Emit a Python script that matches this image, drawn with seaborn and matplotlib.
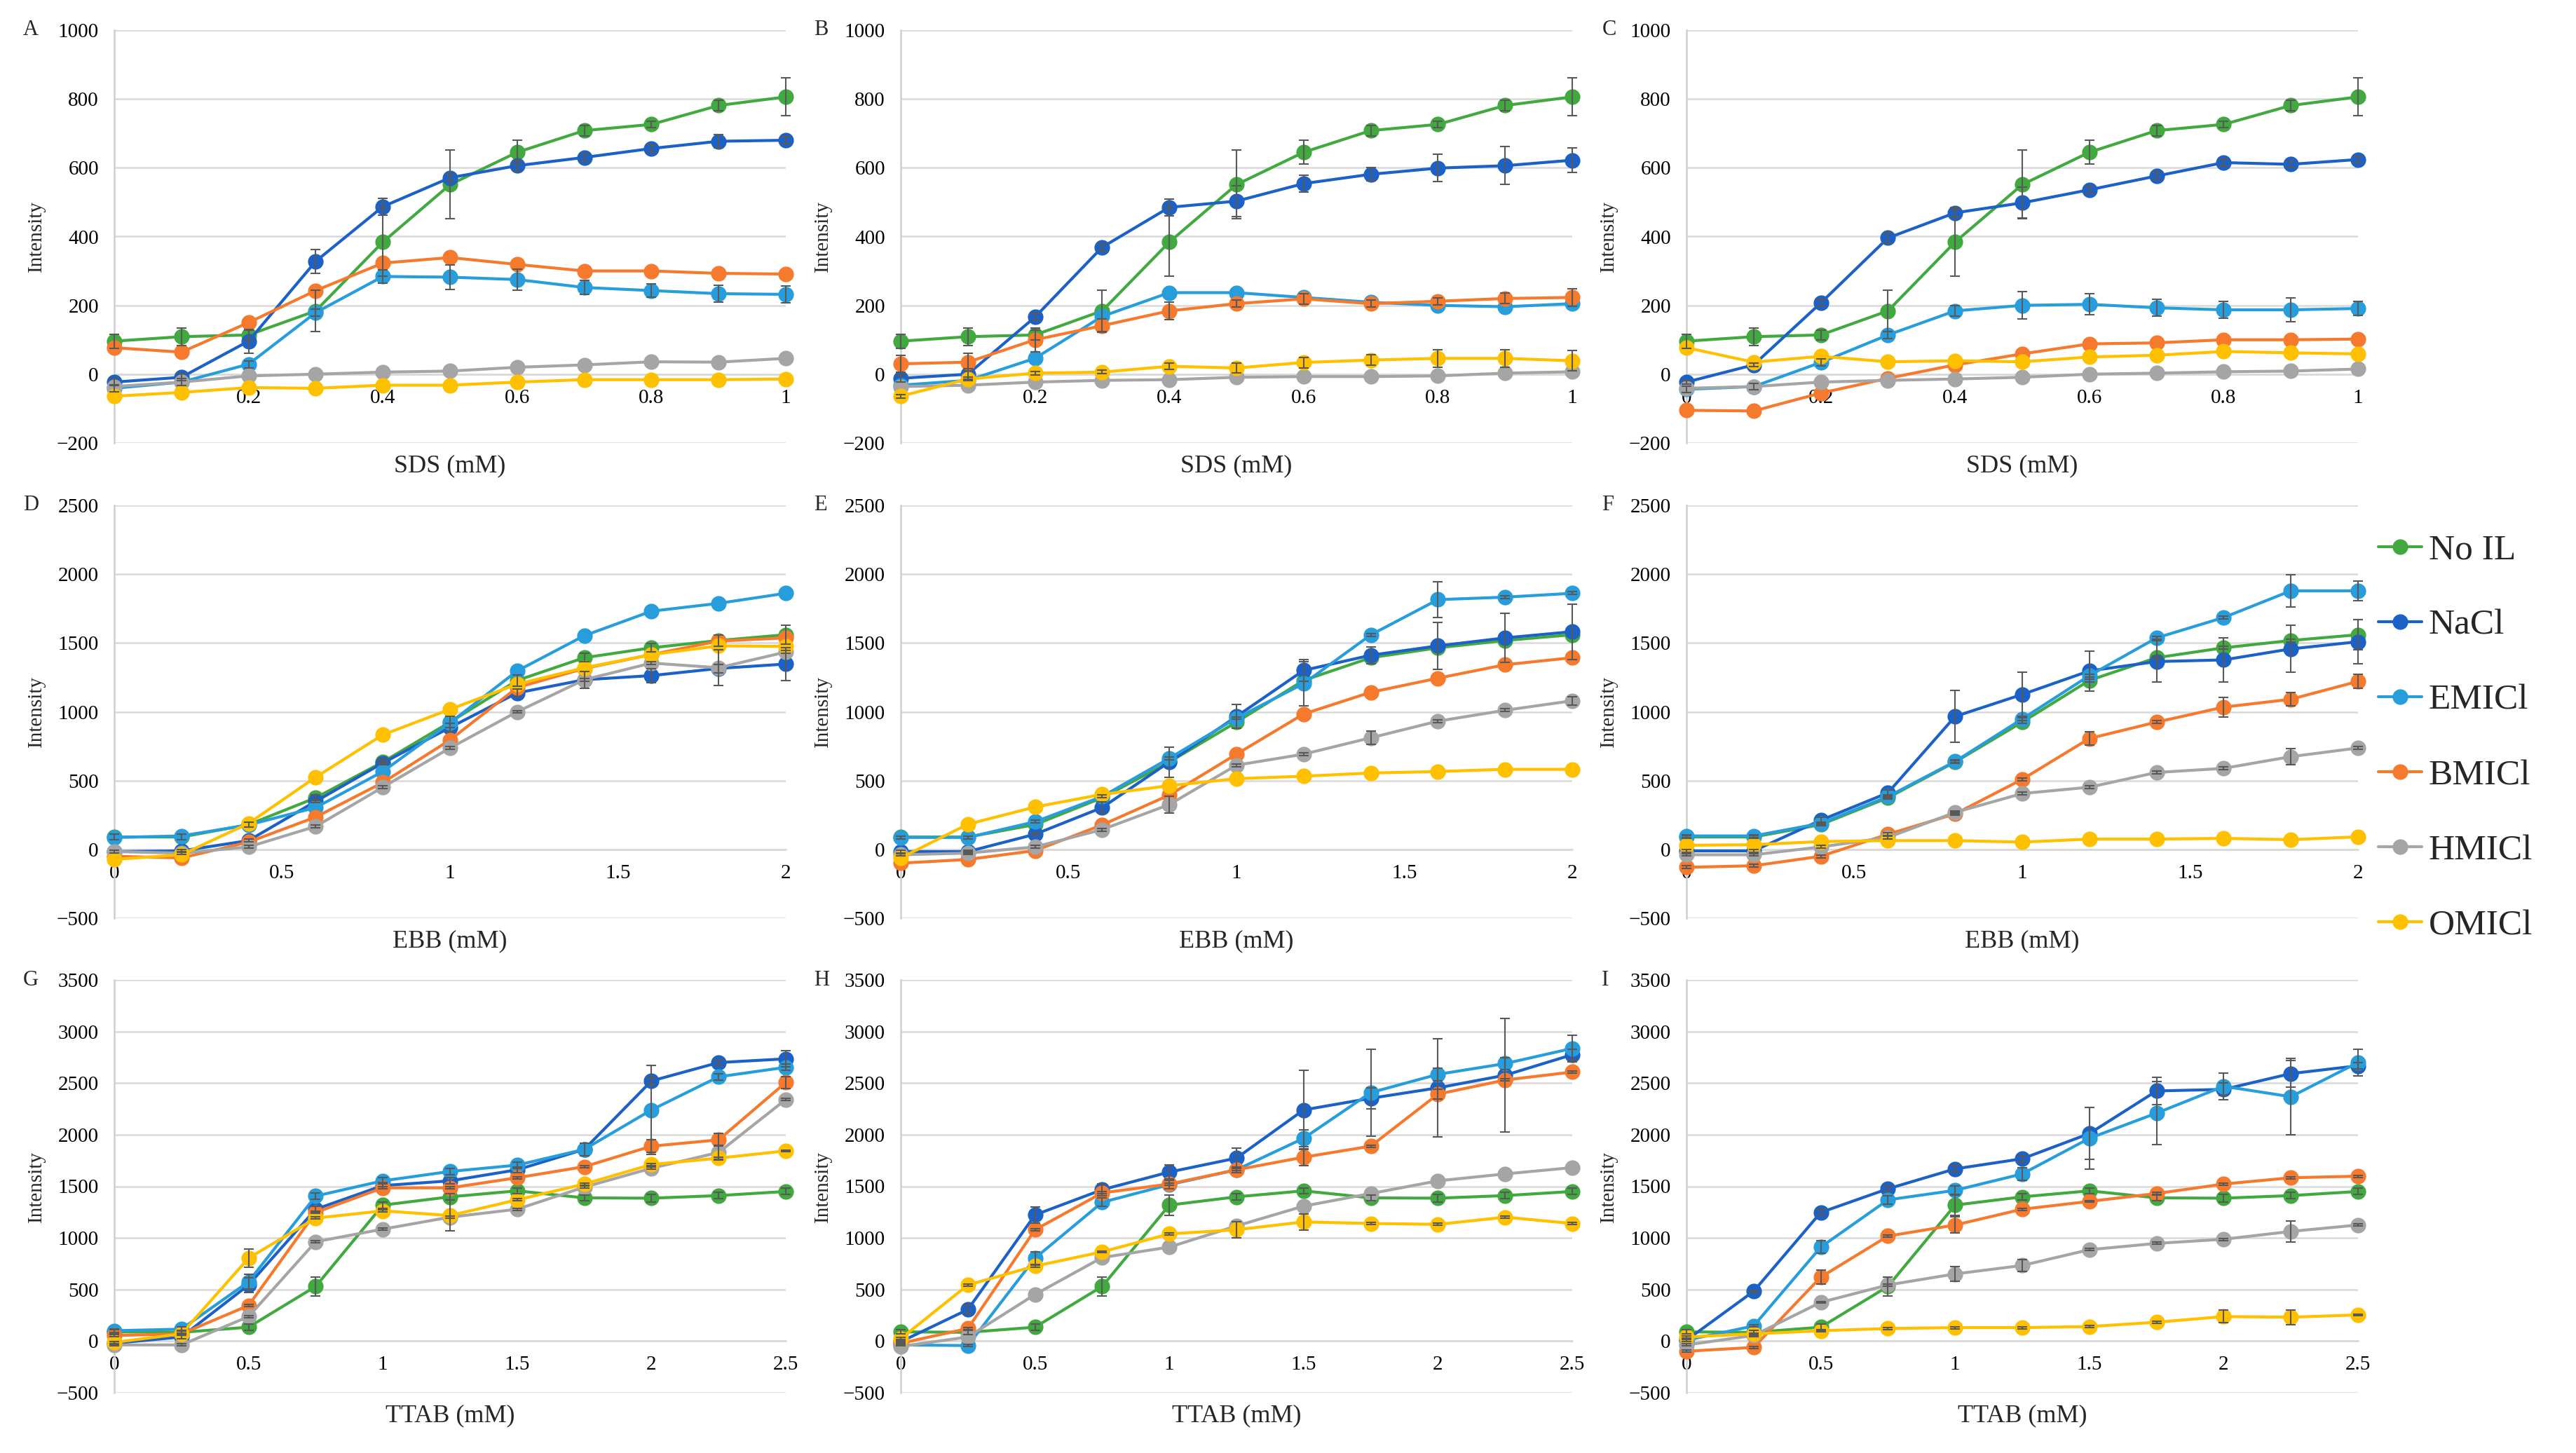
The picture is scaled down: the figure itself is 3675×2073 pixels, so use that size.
import pandas as pd
import seaborn as sns
import matplotlib.pyplot as plt
from matplotlib.lines import Line2D
from matplotlib.ticker import MultipleLocator, FuncFormatter

sns.set_theme(style='white')
plt.rcParams['font.family'] = ['Liberation Serif', 'DejaVu Serif']

series = ['No IL', 'NaCl', 'EMICl', 'BMICl', 'HMICl', 'OMICl']
colors = {'No IL': '#42a940', 'NaCl': '#1c62c6', 'EMICl': '#279ddb',
          'BMICl': '#f57a2e', 'HMICl': '#a5a5a5', 'OMICl': '#ffc000'}

sds_x = [0, 0.1, 0.2, 0.3, 0.4, 0.5, 0.6, 0.7, 0.8, 0.9, 1.0]
ebb_x = [0, 0.2, 0.4, 0.6, 0.8, 1.0, 1.2, 1.4, 1.6, 1.8, 2.0]
ttab_x = [0, 0.25, 0.5, 0.75, 1.0, 1.25, 1.5, 1.75, 2.0, 2.25, 2.5]

# control (no ionic liquid) is the same curve in each row
noil_sds = [96, 109, 114, 184, 384, 551, 645, 708, 726, 781, 806]
noil_ebb = [90, 90, 180, 375, 635, 925, 1228, 1393, 1465, 1518, 1560]
noil_ttab = [90, 85, 135, 530, 1318, 1398, 1456, 1388, 1385, 1410, 1450]

# ---- SDS ----
panel_a = {'No IL': noil_sds,
           'NaCl': [-23, -9, 96, 328, 487, 571, 606, 630, 656, 677, 680],
           'EMICl': [-41, -23, 29, 179, 284, 282, 275, 252, 243, 234, 232],
           'BMICl': [77, 64, 150, 243, 323, 339, 319, 300, 300, 293, 291],
           'HMICl': [-36, -23, -5, 0, 6, 9, 20, 27, 36, 35, 46],
           'OMICl': [-64, -53, -39, -41, -32, -32, -23, -16, -16, -16, -14]}
err_a = {'No IL': [20, 25, 15, 60, 100, 100, 35, 15, 10, 15, 55],
         'NaCl': [10, 10, 35, 35, 25, 10, 15, 10, 10, 20, 10],
         'EMICl': [10, 10, 10, 10, 20, 35, 30, 20, 20, 25, 25]}

panel_b = {'No IL': noil_sds,
           'NaCl': [-12, 0, 166, 369, 485, 503, 554, 581, 599, 606, 622],
           'EMICl': [-32, -18, 46, 168, 237, 237, 223, 209, 200, 196, 205],
           'BMICl': [30, 35, 100, 141, 184, 205, 219, 205, 212, 220, 223],
           'HMICl': [-36, -32, -23, -18, -16, -9, -7, -7, -5, 3, 7],
           'OMICl': [-64, -14, 3, 6, 23, 18, 34, 41, 46, 46, 39]}
err_b = {'No IL': [20, 25, 15, 60, 100, 100, 35, 15, 10, 15, 55],
         'NaCl': [10, 15, 10, 10, 25, 45, 25, 20, 40, 55, 35],
         'BMICl': [25, 25, 35, 20, 25, 10, 15, 10, 10, 15, 25],
         'OMICl': [5, 5, 5, 5, 10, 15, 15, 15, 25, 25, 30]}

panel_c = {'No IL': noil_sds,
           'NaCl': [-23, 27, 207, 396, 469, 498, 536, 576, 615, 610, 624],
           'EMICl': [-44, -36, 34, 114, 184, 200, 203, 193, 187, 187, 191],
           'BMICl': [-105, -107, -55, -12, 27, 59, 88, 91, 100, 100, 102],
           'HMICl': [-41, -36, -23, -18, -14, -9, 0, 3, 7, 9, 15],
           'OMICl': [77, 35, 52, 36, 39, 36, 50, 55, 66, 62, 59]}
err_c = {'No IL': [20, 25, 15, 60, 100, 100, 35, 15, 10, 15, 55],
         'NaCl': [5, 5, 10, 15, 10, 45, 10, 10, 10, 10, 10],
         'EMICl': [10, 10, 10, 10, 15, 40, 30, 25, 25, 35, 20]}

# ---- EBB ----
panel_d = {'No IL': noil_ebb,
           'NaCl': [-16, -11, 64, 349, 628, 886, 1137, 1233, 1263, 1315, 1347],
           'EMICl': [87, 98, 178, 304, 566, 920, 1297, 1553, 1731, 1788, 1861],
           'BMICl': [-50, -62, 53, 235, 486, 795, 1176, 1315, 1416, 1514, 1537],
           'HMICl': [-16, -27, 18, 167, 452, 737, 1000, 1233, 1354, 1320, 1434],
           'OMICl': [-73, -39, 189, 525, 833, 1018, 1201, 1320, 1416, 1479, 1475]}
err_d = {'No IL': [20, 20, 20, 20, 20, 40, 40, 30, 30, 40, 70],
         'NaCl': [10, 10, 10, 10, 10, 30, 30, 60, 50, 30, 120],
         'HMICl': [10, 10, 10, 10, 10, 10, 10, 10, 10, 130, 10]}

panel_e = {'No IL': noil_ebb,
           'NaCl': [-16, -16, 110, 304, 635, 966, 1301, 1411, 1479, 1537, 1582],
           'EMICl': [87, 87, 201, 384, 662, 954, 1205, 1559, 1815, 1833, 1861],
           'BMICl': [-100, -73, -9, 178, 395, 692, 984, 1142, 1244, 1342, 1393],
           'HMICl': [-39, -27, 18, 144, 326, 612, 692, 811, 932, 1011, 1080],
           'OMICl': [-62, 183, 308, 400, 463, 514, 532, 555, 566, 582, 582]}
err_e = {'NaCl': [10, 10, 10, 40, 110, 85, 80, 60, 170, 180, 200],
         'EMICl': [10, 10, 10, 10, 10, 10, 160, 10, 130, 10, 10],
         'HMICl': [10, 10, 10, 10, 60, 10, 10, 50, 10, 10, 30]}

panel_f = {'No IL': noil_ebb,
           'NaCl': [-11, -11, 212, 411, 966, 1126, 1297, 1365, 1377, 1457, 1509],
           'EMICl': [98, 98, 189, 384, 639, 948, 1263, 1537, 1685, 1879, 1879],
           'BMICl': [-130, -119, -50, 110, 258, 509, 806, 925, 1034, 1091, 1221],
           'HMICl': [-39, -39, 18, 87, 269, 406, 452, 559, 589, 674, 737],
           'OMICl': [30, 34, 57, 64, 64, 53, 75, 75, 80, 71, 91]}
err_f = {'No IL': [10, 10, 10, 10, 10, 10, 10, 10, 10, 10, 110],
         'NaCl': [10, 10, 20, 20, 190, 160, 145, 150, 160, 170, 160],
         'EMICl': [10, 10, 10, 10, 10, 10, 10, 10, 10, 117, 70],
         'BMICl': [10, 10, 10, 10, 10, 10, 50, 10, 70, 50, 50],
         'HMICl': [10, 10, 10, 10, 10, 10, 10, 10, 10, 60, 10]}

# ---- TTAB ----
panel_g = {'No IL': noil_ttab,
           'NaCl': [-21, 40, 544, 1278, 1507, 1553, 1660, 1858, 2521, 2699, 2735],
           'EMICl': [101, 116, 575, 1406, 1553, 1644, 1705, 1858, 2240, 2561, 2653],
           'BMICl': [55, 70, 345, 1247, 1485, 1485, 1583, 1690, 1889, 1950, 2506],
           'HMICl': [-37, -37, 238, 963, 1085, 1201, 1278, 1492, 1675, 1828, 2341],
           'OMICl': [-12, 70, 804, 1192, 1262, 1217, 1369, 1522, 1711, 1773, 1843]}
err_g = {'No IL': [20, 20, 30, 90, 30, 30, 30, 30, 40, 30, 30],
         'NaCl': [20, 20, 70, 30, 30, 30, 30, 60, 30, 30, 80],
         'EMICl': [20, 20, 70, 30, 30, 30, 30, 60, 430, 30, 30],
         'BMICl': [10, 10, 10, 10, 10, 10, 10, 10, 60, 60, 60],
         'HMICl': [10, 10, 10, 10, 10, 10, 10, 10, 10, 70, 10],
         'OMICl': [10, 10, 90, 10, 10, 150, 10, 10, 10, 10, 10]}

panel_h = {'No IL': noil_ttab,
           'NaCl': [-6, 306, 1223, 1467, 1638, 1773, 2240, 2353, 2454, 2576, 2775],
           'EMICl': [-37, -43, 804, 1345, 1516, 1660, 1965, 2408, 2585, 2689, 2836],
           'BMICl': [-21, 122, 1079, 1436, 1522, 1660, 1782, 1889, 2393, 2530, 2607],
           'HMICl': [-52, 40, 452, 810, 911, 1116, 1308, 1430, 1553, 1620, 1681],
           'OMICl': [24, 544, 727, 865, 1039, 1079, 1155, 1140, 1131, 1201, 1140]}
err_h = {'No IL': [20, 20, 30, 90, 100, 30, 30, 30, 40, 30, 30],
         'NaCl': [10, 40, 80, 60, 70, 100, 385, 100, 475, 550, 50],
         'EMICl': [10, 10, 60, 40, 40, 30, 80, 420, 60, 60, 130],
         'BMICl': [10, 10, 10, 10, 10, 10, 80, 10, 50, 10, 10],
         'OMICl': [10, 10, 10, 10, 10, 80, 80, 10, 10, 10, 10]}

panel_i = {'No IL': noil_ttab,
           'NaCl': [9, 483, 1247, 1476, 1669, 1767, 2011, 2424, 2439, 2592, 2668],
           'EMICl': [9, 147, 911, 1369, 1461, 1620, 1965, 2209, 2469, 2368, 2699],
           'BMICl': [-98, -61, 620, 1018, 1125, 1278, 1354, 1430, 1522, 1583, 1598],
           'HMICl': [-37, 55, 376, 544, 651, 733, 886, 947, 987, 1063, 1125],
           'OMICl': [40, 70, 101, 122, 131, 131, 141, 183, 238, 232, 254]}
err_i = {'No IL': [20, 20, 30, 90, 100, 30, 30, 30, 40, 30, 30],
         'NaCl': [10, 10, 30, 30, 30, 30, 250, 130, 60, 130, 30],
         'EMICl': [10, 10, 60, 40, 40, 60, 300, 305, 130, 370, 130],
         'BMICl': [10, 10, 70, 10, 80, 10, 10, 10, 10, 10, 10],
         'HMICl': [10, 10, 10, 10, 70, 60, 10, 10, 10, 100, 10],
         'OMICl': [10, 10, 10, 10, 10, 10, 10, 10, 60, 70, 10]}

panels = [
    ('A', panel_a, err_a, sds_x, 'SDS (mM)', (-200, 1000), 200, 0.2),
    ('B', panel_b, err_b, sds_x, 'SDS (mM)', (-200, 1000), 200, 0.2),
    ('C', panel_c, err_c, sds_x, 'SDS (mM)', (-200, 1000), 200, 0.2),
    ('D', panel_d, err_d, ebb_x, 'EBB (mM)', (-500, 2500), 500, 0.5),
    ('E', panel_e, err_e, ebb_x, 'EBB (mM)', (-500, 2500), 500, 0.5),
    ('F', panel_f, err_f, ebb_x, 'EBB (mM)', (-500, 2500), 500, 0.5),
    ('G', panel_g, err_g, ttab_x, 'TTAB (mM)', (-500, 3500), 500, 0.5),
    ('H', panel_h, err_h, ttab_x, 'TTAB (mM)', (-500, 3500), 500, 0.5),
    ('I', panel_i, err_i, ttab_x, 'TTAB (mM)', (-500, 3500), 500, 0.5),
]

W, H = 3675, 2073
lefts = [163, 1285, 2406]
tops = [43, 721, 1398]
aw, ah = 958, 589
letter_dx = [-0.136, -0.129, -0.126]
grid_c = '#d9d9d9'
ms, lw = 16, 3.0

fig = plt.figure(figsize=(W / 100, H / 100), dpi=100)

for k, (letter, vals, errs, xs, xlab, ylim, ystep, xstep) in enumerate(panels):
    r, c = divmod(k, 3)
    ax = fig.add_axes([lefts[c] / W, 1 - (tops[r] + ah) / H, aw / W, ah / H])

    df = pd.DataFrame([(s, x, y) for s in series for x, y in zip(xs, vals[s])],
                      columns=['series', 'conc', 'intensity'])
    sns.lineplot(data=df, x='conc', y='intensity', hue='series', hue_order=series,
                 palette=colors, marker='o', markersize=ms, markeredgewidth=0,
                 linewidth=lw, legend=False, errorbar=None, sort=False,
                 clip_on=False, zorder=3, ax=ax)
    for s in series:
        if s in errs:
            ax.errorbar(xs, vals[s], yerr=errs[s], fmt='none', ecolor='#595959',
                        elinewidth=1.5, capsize=5, capthick=1.5, zorder=4,
                        clip_on=False)

    ax.set_xlim(xs[0], xs[-1])
    ax.set_ylim(*ylim)
    ax.yaxis.set_major_locator(MultipleLocator(ystep))
    ax.xaxis.set_major_locator(MultipleLocator(xstep))
    ax.xaxis.set_major_formatter(FuncFormatter(lambda v, p: f'{v:g}'))
    ax.grid(axis='y', color=grid_c, linewidth=1.8, zorder=0)
    ax.set_axisbelow(True)

    for side in ['top', 'right']:
        ax.spines[side].set_visible(False)
    ax.spines['left'].set_color('#cfcfcf')
    ax.spines['left'].set_linewidth(1.8)
    ax.spines['bottom'].set_position(('data', 0))
    ax.spines['bottom'].set_color(grid_c)
    ax.spines['bottom'].set_linewidth(1.8)
    ax.tick_params(axis='x', length=0, pad=15, labelsize=21, colors='black')
    ax.tick_params(axis='y', length=0, pad=16, labelsize=21, colors='black')
    ax.set_xlabel('')
    ax.set_ylabel('')

    ax.text(0.5, -0.056, xlab, transform=ax.transAxes, ha='center', va='center',
            fontsize=26)
    ax.text(-0.116, 0.5, 'Intensity', transform=ax.transAxes, rotation=90,
            ha='center', va='center', fontsize=21)
    ax.text(letter_dx[c], 1.0, letter, transform=ax.transAxes, ha='left',
            va='center', fontsize=22)

handles = [Line2D([0], [0], color=colors[s], marker='o', markersize=ms,
                  markeredgewidth=0, linewidth=lw) for s in series]
fig.legend(handles, series, loc='center left',
           bbox_to_anchor=(3393 / W, 1 - 1053 / H), frameon=False, fontsize=37,
           handlelength=1.2, handletextpad=0.2, labelspacing=1.17,
           borderpad=0, borderaxespad=0)

fig.savefig('out.png', dpi=100, facecolor='white')
